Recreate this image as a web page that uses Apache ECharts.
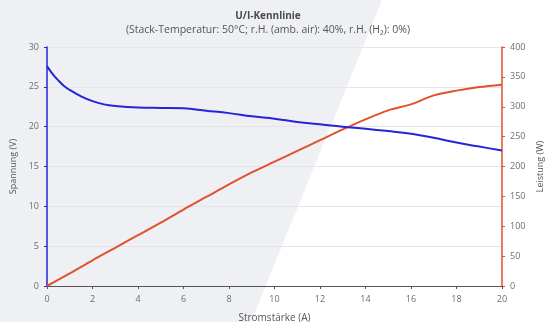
<!DOCTYPE html>
<html>
<head>
<meta charset="utf-8">
<script src="https://cdn.jsdelivr.net/npm/echarts@6/dist/echarts.min.js"></script>
<style>
  html, body { margin: 0; padding: 0; background: #ffffff; }
  #chart { width: 546px; height: 322px; }
</style>
</head>
<body>
<div id="chart"></div>
<script>
// Current (A) sample points of the fuel-cell stack
const voltageCurrent = [0, 0.25, 0.5, 0.75, 1, 1.5, 2, 2.5, 3, 4, 5, 6, 7, 8, 9, 10, 11, 12, 13, 14, 15, 16, 17, 18, 19, 20];
// Stack voltage (V)
const voltage = [27.6, 26.6, 25.8, 25.1, 24.6, 23.8, 23.2, 22.8, 22.6, 22.4, 22.35, 22.3, 22.0, 21.7, 21.3, 21.0, 20.6, 20.3, 20.0, 19.75, 19.45, 19.1, 18.6, 18.0, 17.5, 17.0];

const powerCurrent = [0, 1, 2, 3, 4, 5, 6, 7, 8, 9, 10, 11, 12, 13, 14, 15, 16, 17, 18, 19, 20];
// Electrical power (W)
const power = [0, 21, 43, 64, 85, 106, 128, 149, 170, 190, 208, 226, 244, 262, 279, 294, 304, 319, 327, 333, 337];

const xTicks = [0, 2, 4, 6, 8, 10, 12, 14, 16, 18, 20];
const leftTicks = [0, 5, 10, 15, 20, 25, 30];
const rightTicks = [0, 50, 100, 150, 200, 250, 300, 350, 400];

const titleText = 'U/I-Kennlinie';
const subtitleText = '(Stack-Temperatur: 50°C; r.H. (amb. air): 40%, r.H. (H\u2082): 0%)';

const FONT = '"Open Sans", "Noto Sans", sans-serif';
const BLUE = '#2525d6';
const RED = '#e2502c';
const LABEL = '#6e6e6e';

const chart = echarts.init(document.getElementById('chart'), null, { renderer: 'canvas' });

const pairs = (xs, ys) => xs.map((x, i) => [x, ys[i]]);

chart.setOption({
  backgroundColor: '#ffffff',
  animation: false,
  graphic: [
    {
      type: 'polygon',
      z: -10,
      silent: true,
      shape: { points: [[0, 0], [382, 0], [251, 322], [0, 322]] },
      style: { fill: '#eef0f4' }
    }
  ],
  title: [
    {
      text: titleText,
      left: 263, top: 6, textAlign: 'center',
      textStyle: { fontFamily: FONT, fontSize: 10, fontWeight: 'bold', color: '#4a4a4a' }
    },
    {
      text: subtitleText,
      left: 263, top: 20, textAlign: 'center',
      textStyle: { fontFamily: FONT, fontSize: 10.5, fontWeight: 'normal', color: '#555555' }
    }
  ],
  grid: { left: 47, right: 44, top: 47, bottom: 36, containLabel: false, outerBoundsMode: 'none' },
  xAxis: {
    type: 'value',
    min: 0, max: 20, interval: 2,
    name: 'Stromstärke (A)',
    nameLocation: 'middle', nameGap: 27,
    nameTextStyle: { fontFamily: FONT, fontSize: 10, color: '#555555' },
    axisLine: { show: true, onZero: false, lineStyle: { color: '#555555', width: 1.2 } },
    axisTick: { show: true, length: 3, lineStyle: { color: '#555555' } },
    axisLabel: {
      fontFamily: FONT, fontSize: 9, color: LABEL, margin: 9,
      formatter: v => (xTicks.includes(v) ? String(v) : '')
    },
    splitLine: { show: false }
  },
  yAxis: [
    {
      type: 'value',
      min: 0, max: 30, interval: 5,
      position: 'left',
      name: 'Spannung (V)',
      nameLocation: 'middle', nameGap: 23, nameRotate: 90,
      nameTextStyle: { fontFamily: FONT, fontSize: 9, color: '#555555' },
      axisLine: { show: true, lineStyle: { color: BLUE, width: 1.5 } },
      axisTick: { show: true, length: 3, lineStyle: { color: BLUE } },
      axisLabel: {
        fontFamily: FONT, fontSize: 9, color: LABEL, margin: 8,
        formatter: v => (leftTicks.includes(v) ? String(v) : '')
      },
      splitLine: { show: true, lineStyle: { color: '#e3e5e8', width: 1 } }
    },
    {
      type: 'value',
      min: 0, max: 400, interval: 50,
      position: 'right',
      name: 'Leistung (W)',
      nameLocation: 'middle', nameGap: 29, nameRotate: 90,
      nameTextStyle: { fontFamily: FONT, fontSize: 9, color: '#555555' },
      axisLine: { show: true, lineStyle: { color: RED, width: 1.5 } },
      axisTick: { show: true, length: 3, lineStyle: { color: RED } },
      axisLabel: {
        fontFamily: FONT, fontSize: 9, color: LABEL, margin: 8,
        formatter: v => (rightTicks.includes(v) ? String(v) : '')
      },
      splitLine: { show: false }
    }
  ],
  series: [
    {
      name: 'Leistung',
      type: 'line',
      yAxisIndex: 1,
      data: pairs(powerCurrent, power),
      smooth: 0.3,
      showSymbol: false,
      lineStyle: { color: RED, width: 2 },
      z: 3
    },
    {
      name: 'Spannung',
      type: 'line',
      yAxisIndex: 0,
      data: pairs(voltageCurrent, voltage),
      smooth: 0.4,
      showSymbol: false,
      lineStyle: { color: BLUE, width: 2 },
      z: 4
    }
  ]
});
</script>
</body>
</html>
